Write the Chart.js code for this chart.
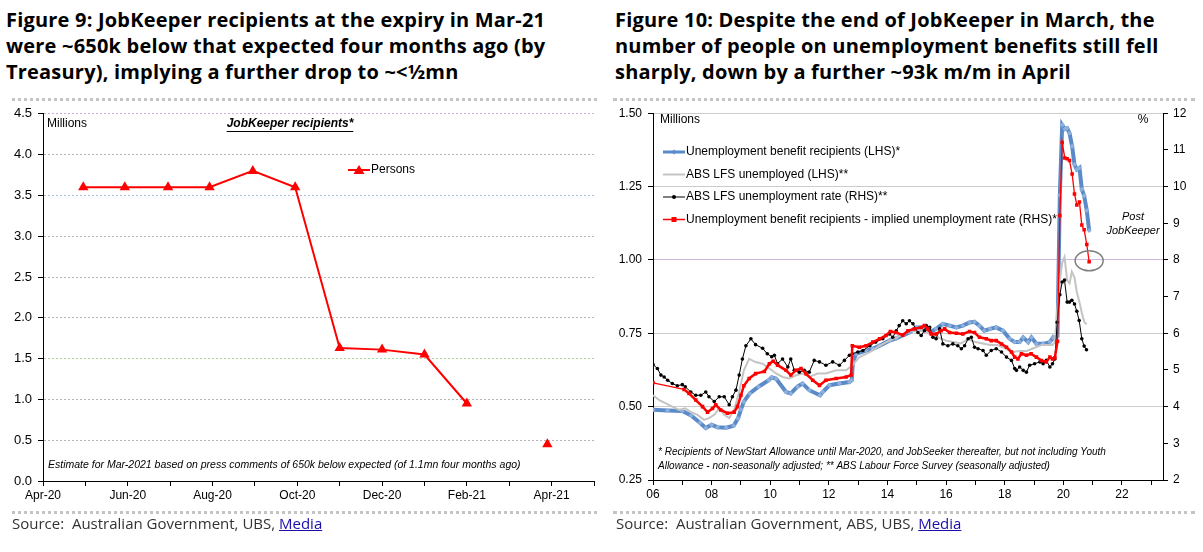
<!DOCTYPE html>
<html>
<head>
<meta charset="utf-8">
<script src="https://cdn.jsdelivr.net/npm/chart.js@4.4.1/dist/chart.umd.min.js"></script>
<style>
    body { margin: 0; width: 1203px; height: 552px; background: #fff; position: relative; overflow: hidden; font-family: "Open Sans", sans-serif; }
    .heading { position: absolute; top: 7px; font-weight: bold; font-size: 20px; letter-spacing: 0.2px; line-height: 26px; color: #000; white-space: nowrap; }
    .rule { position: absolute; height: 0; border-top: 3px dotted #c4c4c4; }
    .source { position: absolute; top: 513px; font-size: 15px; color: #333; white-space: nowrap; }
    .source a { color: #1a0dab; }
    canvas { position: absolute; }
</style>
</head>
<body>
<div class="heading" style="left:6px">Figure 9: JobKeeper recipients at the expiry in Mar-21<br>were ~650k below that expected four months ago (by<br>Treasury), implying a further drop to ~&lt;½mn</div>
<div class="heading" style="left:615px">Figure 10: Despite the end of JobKeeper in March, the<br>number of people on unemployment benefits still fell<br>sharply, down by a further ~93k m/m in April</div>

<div class="rule" style="left:12px;width:585px;top:98px"></div>
<div class="rule" style="left:12px;width:585px;top:511px"></div>
<div class="rule" style="left:613px;width:582px;top:98px"></div>
<div class="rule" style="left:613px;width:582px;top:511px"></div>

<canvas id="jk" width="600" height="415" style="left:0;top:100px"></canvas>
<canvas id="ub" width="598" height="415" style="left:605px;top:100px"></canvas>

<div class="source" style="left:12px">Source:&nbsp; Australian Government, UBS, <a href="#">Media</a></div>
<div class="source" style="left:616px">Source:&nbsp; Australian Government, ABS, UBS, <a href="#">Media</a></div>

<script>
// Figure 9 - JobKeeper recipients (millions), x = months since Apr-20
var jkMonthLabels = ["Apr-20", "Jun-20", "Aug-20", "Oct-20", "Dec-20", "Feb-21", "Apr-21"];
var jkMonths = [0.95, 1.93, 2.95, 3.93, 4.95, 5.95, 7, 8, 9, 10];
var jkPersons = [3.6, 3.6, 3.6, 3.6, 3.8, 3.6, 1.63, 1.61, 1.55, 0.95];
var jkEstimateMonth = [11.9];
var jkEstimate = [0.45];

// Figure 10 - [year on the chart axis, value]
var yearLabels = ["06", "08", "10", "12", "14", "16", "18", "20", "22"];
var benefitMn = [
    [2006.0, 0.489], [2006.5, 0.487], [2007.0, 0.485], [2007.3, 0.47], [2007.6, 0.445], [2007.8, 0.427],
    [2008.0, 0.438], [2008.2, 0.43], [2008.5, 0.428], [2008.75, 0.435], [2008.9, 0.46], [2009.0, 0.49],
    [2009.1, 0.517], [2009.3, 0.545], [2009.6, 0.568], [2009.95, 0.59], [2010.05, 0.6], [2010.2, 0.595],
    [2010.54, 0.55], [2010.7, 0.545], [2010.93, 0.568], [2011.1, 0.579], [2011.33, 0.556], [2011.7, 0.539],
    [2011.79, 0.55], [2012.02, 0.573], [2012.36, 0.579], [2012.7, 0.584], [2012.78, 0.59], [2012.82, 0.652],
    [2012.93, 0.68], [2013.27, 0.691], [2013.5, 0.697], [2013.73, 0.708], [2014.07, 0.725], [2014.3, 0.733],
    [2014.5, 0.742], [2014.75, 0.753], [2014.98, 0.77], [2015.21, 0.77], [2015.44, 0.753], [2015.66, 0.765],
    [2015.89, 0.782], [2016.12, 0.776], [2016.35, 0.77], [2016.57, 0.776], [2016.8, 0.787], [2016.97, 0.789],
    [2017.14, 0.776], [2017.3, 0.759], [2017.5, 0.765], [2017.71, 0.77], [2017.94, 0.759], [2018.17, 0.731],
    [2018.34, 0.72], [2018.51, 0.72], [2018.63, 0.736], [2018.8, 0.72], [2018.91, 0.736], [2019.08, 0.714],
    [2019.31, 0.714], [2019.54, 0.72], [2019.65, 0.736], [2019.71, 0.73], [2019.80, 0.74], [2019.88, 1.22],
    [2019.96, 1.46], [2020.05, 1.446], [2020.13, 1.449], [2020.21, 1.432], [2020.30, 1.387], [2020.38, 1.325],
    [2020.46, 1.308], [2020.55, 1.314], [2020.63, 1.241], [2020.71, 1.219], [2020.80, 1.168], [2020.88, 1.10]
];
var lfsUnemployedMn = [
    [2006.0, 0.539], [2006.2, 0.523], [2006.44, 0.511], [2006.66, 0.5], [2006.89, 0.489], [2007.1, 0.494],
    [2007.27, 0.483], [2007.52, 0.472], [2007.74, 0.455], [2007.91, 0.461], [2008.09, 0.472], [2008.26, 0.494],
    [2008.43, 0.472], [2008.6, 0.461], [2008.77, 0.489], [2008.94, 0.55], [2009.1, 0.624], [2009.28, 0.663],
    [2009.5, 0.652], [2009.74, 0.646], [2009.97, 0.63], [2010.2, 0.613], [2010.42, 0.601], [2010.65, 0.596],
    [2010.88, 0.607], [2011.1, 0.613], [2011.33, 0.601], [2011.62, 0.613], [2011.9, 0.613], [2012.25, 0.624],
    [2012.59, 0.624], [2012.8, 0.641], [2013.04, 0.669], [2013.4, 0.686], [2013.73, 0.708], [2014.07, 0.725],
    [2014.3, 0.735], [2014.5, 0.745], [2014.75, 0.76], [2015.0, 0.755], [2015.25, 0.76], [2015.5, 0.745],
    [2015.75, 0.735], [2016.0, 0.725], [2016.25, 0.72], [2016.5, 0.715], [2016.75, 0.73], [2017.0, 0.72],
    [2017.25, 0.715], [2017.5, 0.71], [2017.75, 0.71], [2018.0, 0.7], [2018.25, 0.685], [2018.5, 0.69],
    [2018.75, 0.69], [2019.0, 0.7], [2019.25, 0.71], [2019.5, 0.71], [2019.63, 0.71], [2019.71, 0.72],
    [2019.79, 0.83], [2019.88, 0.93], [2019.96, 0.99], [2020.04, 1.01], [2020.13, 0.93], [2020.21, 0.92],
    [2020.29, 0.96], [2020.38, 0.94], [2020.46, 0.89], [2020.54, 0.86], [2020.63, 0.82], [2020.71, 0.79],
    [2020.79, 0.78]
];
var lfsRatePct = [
    [2006.0, 5.15], [2006.15, 5.04], [2006.27, 4.86], [2006.38, 4.81], [2006.5, 4.72], [2006.66, 4.63],
    [2006.83, 4.57], [2007.0, 4.6], [2007.1, 4.54], [2007.29, 4.4], [2007.46, 4.31], [2007.63, 4.31],
    [2007.8, 4.4], [2007.91, 4.27], [2008.09, 4.14], [2008.26, 4.27], [2008.43, 4.27], [2008.6, 4.05],
    [2008.71, 4.27], [2008.83, 4.45], [2008.94, 4.86], [2009.05, 5.3], [2009.17, 5.66], [2009.34, 5.85],
    [2009.5, 5.69], [2009.74, 5.59], [2009.9, 5.44], [2010.05, 5.36], [2010.14, 5.4], [2010.25, 5.17],
    [2010.42, 5.3], [2010.6, 5.08], [2010.7, 5.3], [2010.82, 4.99], [2010.99, 4.94], [2011.16, 4.99],
    [2011.33, 4.94], [2011.5, 5.26], [2011.68, 5.22], [2011.9, 5.13], [2012.13, 5.22], [2012.36, 5.13],
    [2012.53, 5.26], [2012.7, 5.4], [2012.8, 5.44], [2012.99, 5.49], [2013.16, 5.53], [2013.4, 5.66],
    [2013.6, 5.76], [2013.84, 5.85], [2014.07, 5.98], [2014.18, 5.89], [2014.3, 6.07], [2014.4, 6.21],
    [2014.52, 6.34], [2014.64, 6.26], [2014.75, 6.34], [2014.87, 6.26], [2015.04, 6.02], [2015.15, 5.94],
    [2015.26, 6.07], [2015.32, 6.21], [2015.44, 6.16], [2015.55, 5.89], [2015.66, 5.85], [2015.78, 6.12],
    [2015.89, 5.71], [2016.06, 5.66], [2016.23, 5.71], [2016.4, 5.66], [2016.52, 5.58], [2016.63, 5.66],
    [2016.75, 5.85], [2016.86, 5.89], [2016.97, 5.62], [2017.09, 5.58], [2017.26, 5.53], [2017.37, 5.4],
    [2017.54, 5.53], [2017.71, 5.58], [2017.89, 5.49], [2018.06, 5.35], [2018.23, 5.26], [2018.34, 5.04],
    [2018.4, 4.99], [2018.51, 5.08], [2018.63, 4.99], [2018.74, 4.94], [2018.85, 5.13], [2019.02, 5.17],
    [2019.2, 5.22], [2019.31, 5.17], [2019.42, 5.26], [2019.54, 5.08], [2019.63, 5.17], [2019.71, 5.3],
    [2019.79, 6.3], [2019.88, 7.05], [2019.96, 7.4], [2020.04, 7.45], [2020.13, 6.85], [2020.21, 6.85],
    [2020.29, 6.9], [2020.38, 6.8], [2020.46, 6.6], [2020.54, 6.35], [2020.63, 5.85], [2020.71, 5.65],
    [2020.79, 5.55]
];
var impliedRatePct = [
    [2006.0, 4.65], [2007.06, 4.47], [2007.23, 4.36], [2007.46, 4.18], [2007.69, 4.0], [2007.86, 3.85],
    [2008.03, 3.95], [2008.14, 4.05], [2008.31, 3.91], [2008.54, 3.82], [2008.77, 3.85], [2008.88, 4.0],
    [2009.0, 4.31], [2009.1, 4.57], [2009.28, 4.77], [2009.5, 4.9], [2009.8, 4.96], [2009.97, 5.17],
    [2010.1, 5.24], [2010.25, 5.13], [2010.54, 4.99], [2010.7, 4.86], [2010.88, 4.99], [2011.05, 5.04],
    [2011.22, 4.9], [2011.45, 4.72], [2011.68, 4.58], [2011.9, 4.72], [2012.25, 4.77], [2012.59, 4.81],
    [2012.76, 4.86], [2012.8, 5.66], [2013.04, 5.62], [2013.27, 5.66], [2013.5, 5.76], [2013.73, 5.85],
    [2013.95, 5.94], [2014.1, 6.05], [2014.3, 6.02], [2014.52, 5.95], [2014.7, 6.07], [2014.92, 6.12],
    [2015.15, 6.16], [2015.26, 6.21], [2015.38, 6.12], [2015.49, 5.98], [2015.66, 5.98], [2015.83, 6.07],
    [2015.95, 6.12], [2016.12, 6.02], [2016.35, 6.0], [2016.57, 5.98], [2016.8, 6.05], [2016.97, 6.02],
    [2017.14, 5.89], [2017.37, 5.85], [2017.54, 5.8], [2017.71, 5.8], [2017.89, 5.71], [2018.06, 5.62],
    [2018.23, 5.49], [2018.34, 5.35], [2018.45, 5.3], [2018.57, 5.44], [2018.74, 5.4], [2018.9, 5.44],
    [2019.08, 5.35], [2019.25, 5.26], [2019.42, 5.22], [2019.54, 5.35], [2019.63, 5.3], [2019.71, 5.33],
    [2019.80, 5.78], [2019.88, 9.21], [2019.96, 11.2], [2020.05, 10.78], [2020.13, 10.76], [2020.21, 10.71],
    [2020.30, 10.34], [2020.38, 9.8], [2020.46, 9.5], [2020.55, 9.58], [2020.63, 8.95], [2020.71, 8.82],
    [2020.80, 8.42], [2020.88, 7.95]
];

Chart.defaults.font.family = "'Liberation Sans', Arial, sans-serif";
Chart.defaults.font.size = 12;
Chart.defaults.color = "#000";

function zip(xs, ys) {
    return xs.map(function (x, i) { return { x: x, y: ys[i] }; });
}

function toPoints(pairs) {
    return pairs.map(function (p) { return { x: p[0], y: p[1] }; });
}

function drawMarker(ctx, style, x, y, r) {
    ctx.beginPath();
    if (style == "triangle") {
        ctx.moveTo(x, y - r);
        ctx.lineTo(x + r * 1.1, y + r * 0.8);
        ctx.lineTo(x - r * 1.1, y + r * 0.8);
    } else if (style == "rect") {
        ctx.rect(x - r, y - r, 2 * r, 2 * r);
    } else if (style == "rectRot") {
        ctx.moveTo(x, y - r);
        ctx.lineTo(x + r, y);
        ctx.lineTo(x, y + r);
        ctx.lineTo(x - r, y);
    } else {
        ctx.arc(x, y, r, 0, Math.PI * 2);
    }
    ctx.closePath();
    ctx.fill();
}

function legendEntry(ctx, x1, x2, y, color, width, marker, r, text) {
    ctx.save();
    ctx.strokeStyle = color;
    ctx.lineWidth = width;
    ctx.beginPath();
    ctx.moveTo(x1, y);
    ctx.lineTo(x2, y);
    ctx.stroke();
    if (marker) {
        ctx.fillStyle = color;
        drawMarker(ctx, marker, (x1 + x2) / 2, y, r);
    }
    ctx.fillStyle = "#000";
    ctx.font = "12px 'Liberation Sans', Arial, sans-serif";
    ctx.textBaseline = "middle";
    ctx.textAlign = "left";
    ctx.fillText(text, x2 + 1, y);
    ctx.restore();
}

// ---------- Figure 9 ----------
var jkGridColors = { "4.5": "#cfa6dd", "3.5": "#a9bde6", "1.5": "#a9d89d" };

var jkNotes = {
    id: "jkNotes",
    afterDraw: function (chart) {
        var ctx = chart.ctx;
        ctx.save();
        ctx.fillStyle = "#000";
        ctx.textBaseline = "middle";
        ctx.font = "12px 'Liberation Sans', Arial, sans-serif";
        ctx.fillText("Millions", 47, 24);

        ctx.font = "italic bold 12px 'Liberation Sans', Arial, sans-serif";
        ctx.textAlign = "center";
        ctx.fillText("JobKeeper recipients*", 290, 24);
        var w = ctx.measureText("JobKeeper recipients*").width;
        ctx.strokeStyle = "#000";
        ctx.lineWidth = 1;
        ctx.beginPath();
        ctx.moveTo(290 - w / 2, 31.5);
        ctx.lineTo(290 + w / 2, 31.5);
        ctx.stroke();

        ctx.textAlign = "left";
        ctx.font = "italic 10.5px 'Liberation Sans', Arial, sans-serif";
        ctx.fillText("Estimate for Mar-2021 based on press comments of 650k below expected (of 1.1mn four months ago)", 48, 365);
        ctx.restore();

        legendEntry(ctx, 348, 370, 70, "#ff0000", 2, "triangle", 5, "Persons");
    }
};

new Chart(document.getElementById("jk"), {
    type: "line",
    data: {
        datasets: [{
            label: "Persons",
            data: zip(jkMonths, jkPersons),
            borderColor: "#ff0000",
            backgroundColor: "#ff0000",
            borderWidth: 2,
            pointStyle: "triangle",
            pointRadius: 6,
            pointBorderWidth: 0
        }, {
            label: "Estimate",
            data: zip(jkEstimateMonth, jkEstimate),
            showLine: false,
            borderColor: "#ff0000",
            backgroundColor: "#ff0000",
            pointStyle: "triangle",
            pointRadius: 6,
            pointBorderWidth: 0
        }]
    },
    options: {
        responsive: false,
        animation: false,
        layout: { padding: { top: 11, right: 5, left: 0, bottom: 0 } },
        plugins: { legend: { display: false }, tooltip: { enabled: false } },
        scales: {
            x: {
                type: "linear",
                min: 0,
                max: 13,
                afterFit: function (scale) { scale.height = 34; },
                ticks: {
                    stepSize: 1,
                    autoSkip: false,
                    maxRotation: 0,
                    padding: 2,
                    callback: function (v) {
                        return v % 2 == 0 ? jkMonthLabels[v / 2] : "";
                    }
                },
                grid: { drawOnChartArea: false, tickLength: 5, tickColor: "#000" },
                border: { color: "#000" }
            },
            y: {
                min: 0,
                max: 4.5,
                afterFit: function (scale) { scale.width = 43; },
                ticks: {
                    stepSize: 0.5,
                    padding: 6,
                    font: { size: 13 },
                    callback: function (v) { return v.toFixed(1); }
                },
                grid: {
                    tickLength: 5,
                    tickColor: "#000",
                    color: function (c) {
                        return jkGridColors[c.tick.value.toFixed(1)] || "#b4b4b4";
                    }
                },
                border: { color: "#000", dash: [2, 2] }
            }
        }
    },
    plugins: [jkNotes]
});

// ---------- Figure 10 ----------
var ubStyles = [
    { text: "Unemployment benefit recipients (LHS)*", color: "#5a8bc8", width: 3, marker: "rectRot", r: 2.5 },
    { text: "ABS LFS unemployed (LHS)**", color: "#c4c4c4", width: 2, marker: null, r: 0 },
    { text: "ABS LFS unemployment rate (RHS)**", color: "#000000", width: 1, marker: "circle", r: 2 },
    { text: "Unemployment benefit recipients - implied unemployment rate (RHS)*", color: "#ff0000", width: 1.5, marker: "rect", r: 2.5 }
];

var ubNotes = {
    id: "ubNotes",
    afterDraw: function (chart) {
        var ctx = chart.ctx;
        ctx.save();
        ctx.fillStyle = "#000";
        ctx.textBaseline = "middle";
        ctx.font = "12px 'Liberation Sans', Arial, sans-serif";
        ctx.fillText("Millions", 55, 20);
        ctx.textAlign = "center";
        ctx.fillText("%", 538, 20);

        ctx.font = "italic 11px 'Liberation Sans', Arial, sans-serif";
        ctx.fillText("Post", 528, 117);
        ctx.fillText("JobKeeper", 528, 131);

        ctx.textAlign = "left";
        ctx.font = "italic 10px 'Liberation Sans', Arial, sans-serif";
        ctx.fillText("* Recipients of NewStart Allowance until Mar-2020, and JobSeeker thereafter, but not including Youth", 53, 352);
        ctx.fillText("Allowance - non-seasonally adjusted; ** ABS Labour Force Survey (seasonally adjusted)", 53, 366);

        // circle round the latest implied rate
        var last = impliedRatePct[impliedRatePct.length - 1];
        var cx = chart.scales.x.getPixelForValue(last[0]);
        var cy = chart.scales.yR.getPixelForValue(last[1]);
        ctx.strokeStyle = "#808080";
        ctx.lineWidth = 1.5;
        ctx.beginPath();
        ctx.ellipse(cx, cy - 1, 14, 10, 0, 0, Math.PI * 2);
        ctx.stroke();
        ctx.restore();

        for (var i = 0; i < ubStyles.length; i++) {
            var s = ubStyles[i];
            legendEntry(ctx, 58, 80, 52 + i * 22.5, s.color, s.width, s.marker, s.r, s.text);
        }
    }
};

// thinner red line once the monthly JobSeeker points start (and for the early gap)
function redWidth(c) {
    var x = c.p0.parsed.x;
    return (x < 2007 || x >= 2019.79) ? 1.3 : 2.5;
}

new Chart(document.getElementById("ub"), {
    type: "line",
    data: {
        datasets: [{
            label: ubStyles[0].text,
            data: toPoints(benefitMn),
            yAxisID: "yL",
            order: 4,
            borderColor: "#5a8bc8",
            backgroundColor: "#8fb0dc",
            borderWidth: 4,
            pointStyle: "rectRot",
            pointRadius: 2.5,
            pointBorderWidth: 0
        }, {
            label: ubStyles[1].text,
            data: toPoints(lfsUnemployedMn),
            yAxisID: "yL",
            order: 3,
            borderColor: "#c4c4c4",
            borderWidth: 2,
            pointRadius: 0
        }, {
            label: ubStyles[2].text,
            data: toPoints(lfsRatePct),
            yAxisID: "yR",
            order: 2,
            borderColor: "#000",
            backgroundColor: "#000",
            borderWidth: 1,
            pointRadius: 1.8,
            pointBorderWidth: 0
        }, {
            label: ubStyles[3].text,
            data: toPoints(impliedRatePct),
            yAxisID: "yR",
            order: 1,
            borderColor: "#ff0000",
            backgroundColor: "#ff0000",
            borderWidth: 2.5,
            segment: { borderWidth: redWidth },
            pointStyle: "rect",
            pointRadius: 2.5,
            pointBorderWidth: 0
        }]
    },
    options: {
        responsive: false,
        animation: false,
        layout: { padding: { top: 11, right: 0, left: 0, bottom: 0 } },
        plugins: { legend: { display: false }, tooltip: { enabled: false } },
        scales: {
            x: {
                type: "linear",
                min: 2006,
                max: 2023.4,
                afterFit: function (scale) { scale.height = 35; },
                ticks: {
                    stepSize: 1,
                    autoSkip: false,
                    maxRotation: 0,
                    includeBounds: false,
                    padding: 2,
                    callback: function (v) {
                        var y = Math.round(v);
                        return y % 2 == 0 ? yearLabels[(y - 2006) / 2] : "";
                    }
                },
                grid: { drawOnChartArea: false, tickLength: 5, tickColor: "#000" },
                border: { color: "#000" }
            },
            yL: {
                position: "left",
                min: 0.25,
                max: 1.5,
                afterFit: function (scale) { scale.width = 48; },
                ticks: {
                    stepSize: 0.25,
                    padding: 6,
                    callback: function (v) { return v.toFixed(2); }
                },
                grid: {
                    tickLength: 5,
                    tickColor: "#000",
                    color: function (c) {
                        return c.tick.value == 1 ? "#cdb8e0" : "#cccccc";
                    }
                },
                border: { color: "#000" }
            },
            yR: {
                position: "right",
                min: 2,
                max: 12,
                afterFit: function (scale) { scale.width = 40; },
                ticks: { stepSize: 1, padding: 5 },
                grid: { drawOnChartArea: false, tickLength: 5, tickColor: "#000" },
                border: { color: "#000" }
            }
        }
    },
    plugins: [ubNotes]
});
</script>
</body>
</html>
